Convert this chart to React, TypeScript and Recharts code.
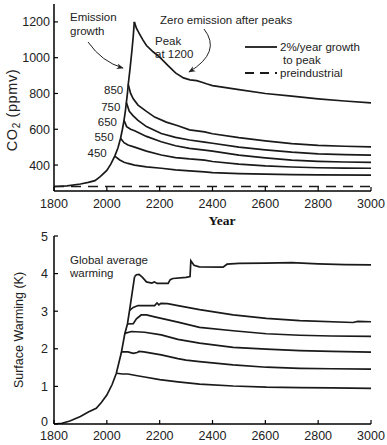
import React from 'react';
import { LineChart, Line, XAxis, YAxis, ReferenceLine, ReferenceDot, Legend } from 'recharts';

const yearTicks = [1800, 2000, 2200, 2400, 2600, 2800, 3000];
const innerYearTicks = [2000, 2200, 2400, 2600, 2800];
const co2Ticks = [400, 600, 800, 1000, 1200];
const warmTicks = [0, 1, 2, 3, 4, 5];
const innerWarmTicks = [1, 2, 3, 4];
const preindustrialCo2 = 280;

// CO2 (ppmv): 2%/year emission growth up to the highest peak
const growthYears = [1800, 1850, 1900, 1930, 1955, 1975, 2000, 2015, 2030, 2042, 2052, 2059, 2065, 2070, 2074, 2078, 2081, 2088, 2095, 2100, 2104];
const co2Growth = [280, 284, 294, 303, 313, 335, 370, 405, 450, 495, 550, 600, 650, 700, 750, 800, 850, 940, 1040, 1120, 1200];

// CO2 after emissions stop at each peak
const co2Years450 = [2030, 2049, 2065, 2080, 2105, 2150, 2206, 2260, 2313, 2370, 2400, 2500, 2600, 2700, 2800, 3000];
const co2After450 = [450, 428, 416, 409, 400, 390, 382, 373, 367, 362, 358, 352, 349, 347, 345, 344];
const co2Years550 = [2052, 2065, 2080, 2105, 2150, 2206, 2260, 2313, 2370, 2400, 2500, 2600, 2700, 2800, 2900, 3000];
const co2After550 = [550, 525, 512, 500, 478, 456, 442, 434, 428, 420, 405, 395, 389, 385, 383, 382];
const co2Years650 = [2065, 2075, 2090, 2105, 2150, 2206, 2260, 2313, 2370, 2400, 2500, 2600, 2700, 2800, 2900, 3000];
const co2After650 = [650, 615, 600, 592, 560, 530, 508, 493, 483, 478, 455, 440, 428, 421, 417, 415];
const co2Years750 = [2074, 2085, 2100, 2118, 2150, 2206, 2260, 2313, 2370, 2400, 2500, 2600, 2700, 2800, 2900, 3000];
const co2After750 = [750, 700, 675, 650, 615, 576, 555, 540, 528, 522, 500, 485, 472, 463, 458, 456];
const co2Years850 = [2081, 2090, 2100, 2118, 2150, 2181, 2225, 2269, 2313, 2370, 2400, 2500, 2600, 2700, 2800, 2900, 3000];
const co2After850 = [850, 800, 770, 735, 700, 668, 640, 620, 597, 585, 575, 553, 535, 520, 510, 505, 502];
const co2Years1200 = [2104, 2112, 2124, 2137, 2150, 2175, 2200, 2230, 2260, 2290, 2315, 2340, 2360, 2380, 2400, 2450, 2500, 2600, 2700, 2800, 2900, 3000];
const co2After1200 = [1200, 1165, 1132, 1098, 1068, 1033, 1003, 958, 915, 887, 876, 872, 863, 853, 844, 833, 822, 800, 785, 770, 758, 748];

// Surface warming (K)
const warmGrowthYears = [1800, 1830, 1860, 1900, 1930, 1960, 1980, 2000, 2020, 2036, 2055, 2068, 2078, 2086, 2095, 2105];
const warmGrowth = [0, 0.02, 0.08, 0.2, 0.32, 0.42, 0.58, 0.77, 1.05, 1.35, 1.9, 2.4, 2.66, 3.02, 3.45, 3.92];

const warmYears450 = [2036, 2060, 2080, 2110, 2143, 2200, 2269, 2351, 2478, 2604, 2730, 2850, 3000];
const warmAfter450 = [1.35, 1.33, 1.33, 1.29, 1.25, 1.18, 1.12, 1.06, 1.01, 0.98, 0.97, 0.96, 0.95];
const warmYears550 = [2055, 2080, 2100, 2115, 2122, 2140, 2206, 2269, 2300, 2351, 2478, 2604, 2730, 2850, 3000];
const warmAfter550 = [1.92, 1.92, 1.88, 1.9, 1.93, 1.92, 1.84, 1.74, 1.7, 1.66, 1.57, 1.51, 1.48, 1.47, 1.46];
const warmYears650 = [2068, 2093, 2143, 2206, 2269, 2351, 2478, 2604, 2730, 2850, 3000];
const warmAfter650 = [2.41, 2.46, 2.44, 2.37, 2.25, 2.15, 2.04, 1.99, 1.95, 1.93, 1.91];
const warmYears750 = [2078, 2100, 2112, 2130, 2150, 2181, 2269, 2351, 2478, 2604, 2730, 2850, 3000];
const warmAfter750 = [2.66, 2.67, 2.8, 2.9, 2.9, 2.85, 2.71, 2.57, 2.48, 2.4, 2.36, 2.34, 2.33];
const warmYears850 = [2086, 2100, 2118, 2181, 2190, 2197, 2205, 2230, 2269, 2351, 2478, 2604, 2730, 2932, 2950, 3000];
const warmAfter850 = [3.02, 3.1, 3.15, 3.15, 3.22, 3.17, 3.21, 3.2, 3.15, 3.04, 2.9, 2.81, 2.75, 2.7, 2.73, 2.72];
const warmYears1200 = [2105, 2112, 2122, 2135, 2150, 2170, 2180, 2190, 2232, 2240, 2250, 2300, 2315, 2318, 2330, 2350, 2440, 2455, 2500, 2600, 2700, 2800, 2900, 3000];
const warmAfter1200 = [3.92, 3.97, 3.98, 3.9, 3.78, 3.75, 3.78, 3.74, 3.74, 3.84, 3.87, 3.9, 3.92, 4.34, 4.22, 4.18, 4.17, 4.25, 4.27, 4.28, 4.29, 4.26, 4.24, 4.23];

const toPoints = (years: number[], vals: number[]) => years.map((year, i) => ({ year, v: vals[i] }));

const co2Curves = [
  [co2Years450, co2After450],
  [co2Years550, co2After550],
  [co2Years650, co2After650],
  [co2Years750, co2After750],
  [co2Years850, co2After850],
  [co2Years1200, co2After1200],
];
const warmCurves = [
  [warmYears450, warmAfter450],
  [warmYears550, warmAfter550],
  [warmYears650, warmAfter650],
  [warmYears750, warmAfter750],
  [warmYears850, warmAfter850],
  [warmYears1200, warmAfter1200],
];

// label nudges for the peak numbers (dx, dy)
const peakLabelNudge = [[-8, -3], [-7, -1], [-7, 2], [-6, 4], [-5, 5]];

const font = '"Liberation Sans", Arial, Helvetica, sans-serif';
const ink = '#1a1a1a';
const axisLine = { stroke: '#000', strokeWidth: 1.5 };

function BottomTick(props: any) {
  const { x, y, payload, dy } = props;
  return (
    <g>
      <line x1={x} x2={x} y1={y} y2={y - 4} stroke="#000" strokeWidth={1.2} />
      <text x={x} y={y + dy} textAnchor="middle" fontSize={12.5} fontFamily={font} fill="#222">
        {payload.value}
      </text>
    </g>
  );
}

function TopTick(props: any) {
  const { x, y } = props;
  return <line x1={x} x2={x} y1={y} y2={y + 4} stroke="#000" strokeWidth={1.2} />;
}

function LeftTick(props: any) {
  const { x, y, payload, gap, lift } = props;
  const up = lift && payload.value === 0 ? lift : 0;
  return (
    <g>
      <line x1={x} x2={x + 4} y1={y} y2={y} stroke="#000" strokeWidth={1.2} />
      <text x={x - gap} y={y + 4.5 - up} textAnchor="end" fontSize={12.5} fontFamily={font} fill="#222">
        {payload.value}
      </text>
    </g>
  );
}

function RightTick(props: any) {
  const { x, y } = props;
  return <line x1={x} x2={x - 4} y1={y} y2={y} stroke="#000" strokeWidth={1.2} />;
}

function LegendBox() {
  return (
    <svg width={130} height={46} style={{ display: 'block' }}>
      <line x1={1} x2={33} y1={9} y2={9} stroke={ink} strokeWidth={1.8} />
      <text x={36} y={13} fontSize={11.5} fontFamily={font} fill="#222">2%/year growth</text>
      <text x={39} y={26} fontSize={11.5} fontFamily={font} fill="#222">to peak</text>
      <line x1={1} x2={33} y1={35} y2={35} stroke={ink} strokeWidth={1.8} strokeDasharray="9 6" />
      <text x={36} y={39} fontSize={11.5} fontFamily={font} fill="#222">preindustrial</text>
    </svg>
  );
}

function Annotations() {
  return (
    <svg width={387} height={445} style={{ position: 'absolute', left: 0, top: 0, pointerEvents: 'none' }}>
      <defs>
        <marker id="head" viewBox="0 0 10 10" refX="9" refY="5" markerWidth="7" markerHeight="7" orient="auto">
          <path d="M0,1 L10,5 L0,9 L3,5 Z" fill="#222" />
        </marker>
      </defs>
      <g fontFamily={font} fontSize={11.5} fill="#222">
        <text x={70} y={21}>Emission</text>
        <text x={70} y={35}>growth</text>
        <text x={160} y={24}>Zero emission after peaks</text>
        <text x={155} y={45}>Peak</text>
        <text x={155} y={58}>at 1200</text>
        <text x={70} y={264}>Global average</text>
        <text x={70} y={277}>warming</text>
      </g>
      <path d="M88 42 Q102 62 123 68" fill="none" stroke="#222" strokeWidth={1} markerEnd="url(#head)" />
      <path d="M204 29 Q222 52 189 72" fill="none" stroke="#222" strokeWidth={1} markerEnd="url(#head)" />
      <text transform="translate(16.5,110) rotate(-90)" textAnchor="middle" fontFamily={font} fontSize={14.5} letterSpacing={0.6} fill="#222">
        CO<tspan dy={3} fontSize={10}>2</tspan><tspan dy={-3}> (ppmv)</tspan>
      </text>
      <text transform="translate(22.5,330) rotate(-90)" textAnchor="middle" fontFamily={font} fontSize={12.5} fill="#222">
        Surface Warming (K)
      </text>
      <text x={222} y={225} textAnchor="middle" fontFamily='"Liberation Serif", "Times New Roman", serif' fontWeight="bold" fontSize={13.5} fill="#111">
        Year
      </text>
    </svg>
  );
}

export default function App() {
  return (
    <div style={{ position: 'relative', width: 387, height: 445, background: '#fff' }}>
      <style>{'body{margin:0;}'}</style>
      <div style={{ position: 'absolute', left: 0, top: 0 }}>
        <LineChart width={387} height={230} margin={{ top: 4, right: 16, left: 0, bottom: 0 }}>
          <XAxis dataKey="year" type="number" domain={[1800, 3000]} ticks={yearTicks} interval={0}
            height={39} tickSize={0} tickMargin={0} tickLine={false} axisLine={axisLine}
            tick={(p: any) => <BottomTick {...p} dy={16.5} />} allowDataOverflow />
          <XAxis xAxisId="t" orientation="top" dataKey="year" type="number" domain={[1800, 3000]} ticks={innerYearTicks}
            interval={0} height={0} tickSize={0} tickMargin={0} tickLine={false} axisLine={axisLine}
            tick={(p: any) => <TopTick {...p} />} allowDataOverflow />
          <YAxis type="number" domain={[255, 1300]} ticks={co2Ticks} interval={0} width={54}
            tickSize={0} tickMargin={0} tickLine={false} axisLine={axisLine}
            tick={(p: any) => <LeftTick {...p} gap={4} />} allowDataOverflow />
          <YAxis yAxisId="r" orientation="right" type="number" domain={[255, 1300]} ticks={co2Ticks} interval={0} width={0}
            tickSize={0} tickMargin={0} tickLine={false} axisLine={axisLine}
            tick={(p: any) => <RightTick {...p} />} allowDataOverflow />
          <ReferenceLine y={preindustrialCo2} stroke={ink} strokeWidth={1.6} strokeDasharray="10 7" />
          <Line data={toPoints(growthYears, co2Growth)} dataKey="v" stroke={ink} strokeWidth={1.7} dot={false} isAnimationActive={false} />
          {co2Curves.map(([ys, vs], i) => (
            <Line key={i} data={toPoints(ys, vs)} dataKey="v" stroke={ink} strokeWidth={1.7} dot={false} isAnimationActive={false} />
          ))}
          {co2Curves.slice(0, 5).map(([ys, vs], i) => (
            <ReferenceDot key={'p' + i} x={ys[0]} y={vs[0]} r={0} fill="none" stroke="none"
              label={{ value: String(vs[0]), position: 'left', offset: 0, dx: peakLabelNudge[i][0], dy: peakLabelNudge[i][1], fontSize: 11.5, fontFamily: font, fill: '#222' }} />
          ))}
          <Legend layout="horizontal" verticalAlign="middle" align="center" content={() => <LegendBox />}
            wrapperStyle={{ position: 'absolute', left: 244, top: 38, width: 130, height: 46 }} />
        </LineChart>
      </div>
      <div style={{ position: 'absolute', left: 0, top: 230 }}>
        <LineChart width={387} height={215} margin={{ top: 6, right: 16, left: 0, bottom: 0 }}>
          <XAxis dataKey="year" type="number" domain={[1800, 3000]} ticks={yearTicks} interval={0}
            height={21} tickSize={0} tickMargin={0} tickLine={false} axisLine={axisLine}
            tick={(p: any) => <BottomTick {...p} dy={16} />} allowDataOverflow />
          <XAxis xAxisId="t" orientation="top" dataKey="year" type="number" domain={[1800, 3000]} ticks={innerYearTicks}
            interval={0} height={0} tickSize={0} tickMargin={0} tickLine={false} axisLine={axisLine}
            tick={(p: any) => <TopTick {...p} />} allowDataOverflow />
          <YAxis type="number" domain={[0, 5]} ticks={warmTicks} interval={0} width={54}
            tickSize={0} tickMargin={0} tickLine={false} axisLine={axisLine}
            tick={(p: any) => <LeftTick {...p} gap={6} lift={3} />} allowDataOverflow />
          <YAxis yAxisId="r" orientation="right" type="number" domain={[0, 5]} ticks={innerWarmTicks} interval={0} width={0}
            tickSize={0} tickMargin={0} tickLine={false} axisLine={axisLine}
            tick={(p: any) => <RightTick {...p} />} allowDataOverflow />
          <Line data={toPoints(warmGrowthYears, warmGrowth)} dataKey="v" stroke={ink} strokeWidth={1.7} dot={false} isAnimationActive={false} />
          {warmCurves.map(([ys, vs], i) => (
            <Line key={i} data={toPoints(ys, vs)} dataKey="v" stroke={ink} strokeWidth={1.7} dot={false} isAnimationActive={false} />
          ))}
        </LineChart>
      </div>
      <Annotations />
    </div>
  );
}
